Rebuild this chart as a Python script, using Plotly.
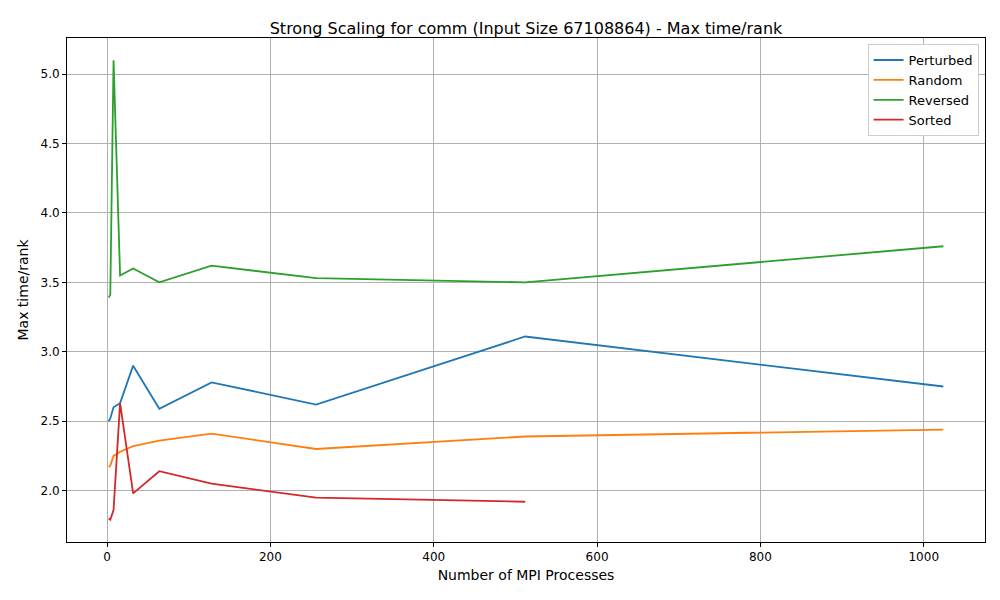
import plotly.graph_objects as go

procs = [2, 4, 8, 16, 32, 64, 128, 256, 512, 1024]
perturbed = [2.50, 2.52, 2.60, 2.63, 2.90, 2.59, 2.78, 2.62, 3.11, 2.75]
random_ = [2.17, 2.18, 2.25, 2.28, 2.32, 2.36, 2.41, 2.30, 2.39, 2.44]
reversed_ = [3.39, 3.41, 5.10, 3.55, 3.60, 3.50, 3.62, 3.53, 3.50, 3.76]
sorted_ = [1.80, 1.79, 1.86, 2.63, 1.98, 2.14, 2.05, 1.95, 1.92]

series = [
    ("Perturbed", procs, perturbed, "#1f77b4"),
    ("Random", procs, random_, "#ff7f0e"),
    ("Reversed", procs, reversed_, "#2ca02c"),
    ("Sorted", procs[:len(sorted_)], sorted_, "#d62728"),
]

fig = go.Figure()
for name, xs, ys, color in series:
    fig.add_trace(go.Scatter(x=xs, y=ys, mode="lines", name=name,
                             line=dict(color=color, width=1.8)))

axis = dict(showgrid=True, gridcolor="#b0b0b0", gridwidth=1, zeroline=False,
            showline=True, linecolor="black", mirror=True, ticks="outside",
            ticklen=4, tickcolor="black", automargin=False)
# page body has an 8px margin, so the margins are shifted to compensate
fig.update_layout(
    width=1000, height=600,
    paper_bgcolor="white", plot_bgcolor="white",
    margin=dict(l=59, r=23, t=30, b=66),
    font=dict(family="DejaVu Sans", size=12, color="black"),
    title=dict(text="Strong Scaling for comm (Input Size 67108864) - Max time/rank",
               x=0.518, xanchor="center", y=0.975, font=dict(size=16)),
    xaxis=dict(axis, title=dict(text="Number of MPI Processes", standoff=6),
               range=[-49, 1075], tickvals=[0, 200, 400, 600, 800, 1000]),
    yaxis=dict(axis, title=dict(text="Max time/rank", standoff=8),
               range=[1.63, 5.26], tickvals=[2.0, 2.5, 3.0, 3.5, 4.0, 4.5, 5.0],
               tickformat=".1f"),
    legend=dict(x=0.993, y=0.988, xanchor="right", yanchor="top",
                bgcolor="white", bordercolor="#cccccc", borderwidth=1,
                font=dict(size=13)),
)
fig.write_html("out.html")
